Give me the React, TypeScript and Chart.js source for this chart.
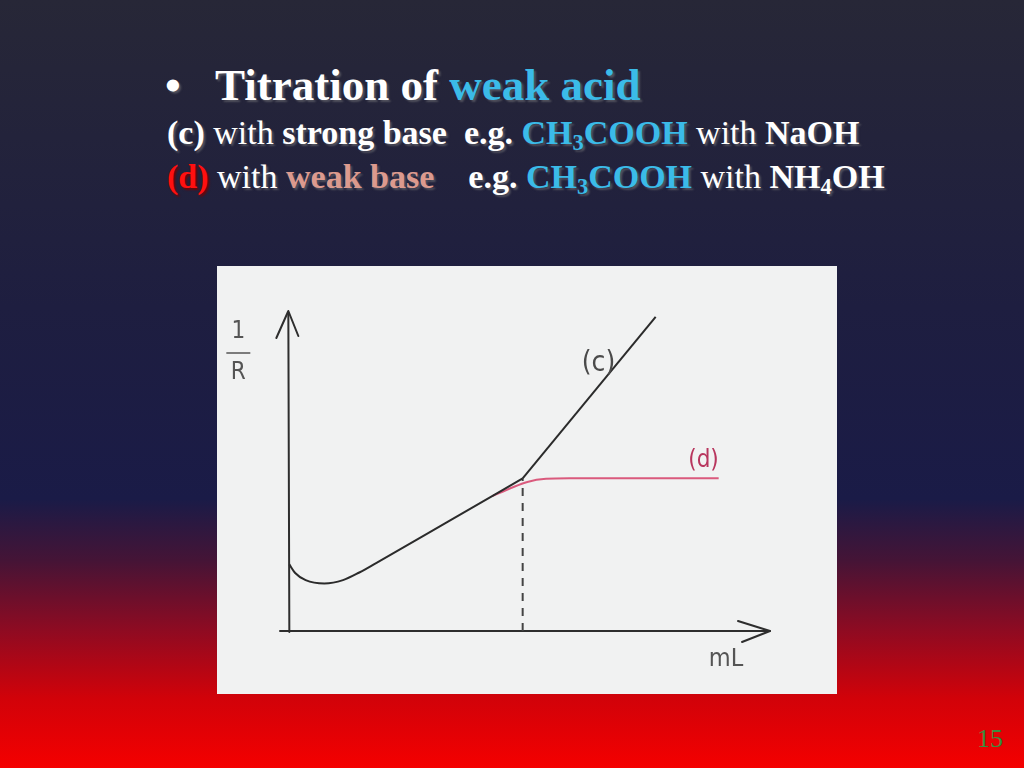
import React, { useEffect, useRef } from "react";
import { Chart, registerables } from "chart.js";

Chart.register(...registerables);

// ---- data (volume in mL, conductance 1/R in arbitrary units) ----
const cCurveX = [0, 0.25, 0.7, 1.5, 2.3, 3.0, 3.7, 6.8, 10];
const cCurveY = [2.62, 2.28, 2.0, 1.87, 2.0, 2.3, 2.66, 4.3, 6.0];
const cLineX = [10, 15.7];
const cLineY = [6.0, 12.35];
const dX = [8.7, 9.5, 10.2, 11.0, 12.0, 18.4];
const dY = [5.3, 5.62, 5.86, 5.98, 6.0, 6.0];
const eqX = [10, 10];
const eqY = [0, 6.0];
const xRange = [-0.4, 20.6];
const yRange = [0, 12.5];
const curveLabels = ["(c)", "(d)"];
const curveLabelX = [13.25, 17.75];
const curveLabelY = [10.5, 6.7];
const xAxisTitle = "mL";
const yAxisTitleTop = "1";
const yAxisTitleBottom = "R";

const pts = (xs: number[], ys: number[]) => xs.map((x, i) => ({ x, y: ys[i] }));

const HAND = "'DejaVu Sans Condensed', 'DejaVu Sans', sans-serif";

const sketchPlugin = {
  id: "sketch",
  beforeDatasetsDraw(chart: any) {
    const { ctx } = chart;
    const xs = chart.scales.x;
    const ys = chart.scales.y;
    const x0 = xs.getPixelForValue(0);
    const y0 = ys.getPixelForValue(0);
    ctx.save();
    ctx.strokeStyle = "#2e2e2e";
    ctx.lineWidth = 2;
    ctx.lineCap = "round";
    ctx.lineJoin = "round";
    // x axis
    ctx.beginPath();
    ctx.moveTo(xs.left, y0);
    ctx.lineTo(xs.right, y0);
    ctx.stroke();
    ctx.beginPath();
    ctx.moveTo(xs.right - 32, y0 - 10);
    ctx.lineTo(xs.right, y0);
    ctx.lineTo(xs.right - 28, y0 + 11);
    ctx.stroke();
    // y axis
    ctx.beginPath();
    ctx.moveTo(x0, y0 + 1);
    ctx.lineTo(x0 - 1, ys.top);
    ctx.stroke();
    ctx.beginPath();
    ctx.moveTo(x0 - 13, ys.top + 25);
    ctx.lineTo(x0 - 1, ys.top - 2);
    ctx.lineTo(x0 + 9, ys.top + 23);
    ctx.stroke();
    ctx.restore();
  },
  afterDraw(chart: any) {
    const { ctx } = chart;
    const xs = chart.scales.x;
    const ys = chart.scales.y;
    ctx.save();
    ctx.textAlign = "center";
    ctx.textBaseline = "middle";
    // curve labels
    const colors = ["#4a4a4a", "#b8365e"];
    const sizes = [28, 24];
    curveLabels.forEach((t, i) => {
      ctx.font = `${sizes[i]}px ${HAND}`;
      ctx.fillStyle = colors[i];
      ctx.fillText(t, xs.getPixelForValue(curveLabelX[i]), ys.getPixelForValue(curveLabelY[i]));
    });
    // x axis title
    ctx.fillStyle = "#555";
    ctx.font = `25px ${HAND}`;
    ctx.fillText(xAxisTitle, xs.right - 44, ys.getPixelForValue(0) + 28);
    // y axis title as a fraction
    const x0 = xs.getPixelForValue(0);
    const cx = x0 - 51;
    const top = ys.top;
    ctx.font = `24px ${HAND}`;
    ctx.fillText(yAxisTitleTop, cx, top + 19);
    ctx.fillText(yAxisTitleBottom, cx, top + 60);
    ctx.strokeStyle = "#555";
    ctx.lineWidth = 1.5;
    ctx.beginPath();
    ctx.moveTo(cx - 12, top + 40);
    ctx.lineTo(cx + 12, top + 40);
    ctx.stroke();
    ctx.restore();
  },
};

function ChartBox() {
  const ref = useRef<HTMLCanvasElement | null>(null);
  useEffect(() => {
    if (!ref.current) return;
    const ink = "#2b2b2b";
    const chart = new Chart(ref.current, {
      type: "line",
      data: {
        datasets: [
          {
            label: "(c) before equivalence",
            data: pts(cCurveX, cCurveY),
            borderColor: ink,
            borderWidth: 2,
            pointRadius: 0,
            cubicInterpolationMode: "monotone",
          },
          {
            label: "(c) after equivalence",
            data: pts(cLineX, cLineY),
            borderColor: ink,
            borderWidth: 2,
            pointRadius: 0,
            tension: 0,
          },
          {
            label: "(d)",
            data: pts(dX, dY),
            borderColor: "rgba(214,64,104,0.85)",
            borderWidth: 2,
            pointRadius: 0,
            cubicInterpolationMode: "monotone",
          },
          {
            label: "equivalence",
            data: pts(eqX, eqY),
            borderColor: "#444",
            borderWidth: 2,
            borderDash: [8, 7],
            pointRadius: 0,
          },
        ],
      },
      options: {
        responsive: false,
        animation: false,
        devicePixelRatio: 1,
        layout: { padding: { left: 63, right: 67, top: 47, bottom: 63 } },
        plugins: { legend: { display: false }, tooltip: { enabled: false }, title: { display: false } },
        scales: {
          x: { type: "linear", min: xRange[0], max: xRange[1], display: false },
          y: { type: "linear", min: yRange[0], max: yRange[1], display: false },
        },
      },
      plugins: [sketchPlugin],
    } as any);
    return () => chart.destroy();
  }, []);
  return <canvas ref={ref} width={620} height={428} style={{ display: "block" }} />;
}

const shadow = "2px 2px 2px rgba(90,90,100,0.85)";
const cyan = "#3bbbe8";
const W = { color: "#ffffff" };
const B = { fontWeight: 700 as const };
const sub = { fontSize: "0.66em", verticalAlign: "-0.28em" };

export default function App() {
  return (
    <div
      style={{
        position: "fixed",
        left: 0,
        top: 0,
        width: 1024,
        height: 768,
        overflow: "hidden",
        background:
          "linear-gradient(to bottom, #272737 0%, #1e1e40 40%, #1a1b47 65%, #451436 73%, #8e0b22 82%, #d20209 91%, #f40000 100%)",
        fontFamily: "'Liberation Serif', 'Times New Roman', serif",
        color: "#fff",
      }}
    >
      <div style={{ position: "absolute", left: 165, top: 63, fontSize: 45, lineHeight: 1, textShadow: shadow, whiteSpace: "pre", ...B }}>
        <span>•</span>
      </div>
      <div style={{ position: "absolute", left: 215, top: 63, fontSize: 45, lineHeight: 1, textShadow: shadow, whiteSpace: "pre", ...B }}>
        <span style={W}>Titration of </span>
        <span style={{ color: cyan }}>weak acid</span>
      </div>
      <div style={{ position: "absolute", left: 167, top: 116, fontSize: 34, lineHeight: 1, textShadow: shadow, whiteSpace: "pre" }}>
        <span style={B}>(c)</span>
        <span> with </span>
        <span style={B}>strong base</span>
        <span>  </span>
        <span style={B}>e.g. </span>
        <span style={{ ...B, color: cyan }}>
          CH<span style={sub}>3</span>COOH
        </span>
        <span> with </span>
        <span style={B}>NaOH</span>
      </div>
      <div style={{ position: "absolute", left: 167, top: 160, fontSize: 34, lineHeight: 1, textShadow: shadow, whiteSpace: "pre" }}>
        <span style={{ ...B, color: "#ff1010", textShadow: "2px 2px 2px rgba(120,0,0,0.9)" }}>(d)</span>
        <span> with </span>
        <span style={{ ...B, color: "#dc9a8e" }}>weak base</span>
        <span>    </span>
        <span style={B}>e.g. </span>
        <span style={{ ...B, color: cyan }}>
          CH<span style={sub}>3</span>COOH
        </span>
        <span> with </span>
        <span style={B}>
          NH<span style={sub}>4</span>OH
        </span>
      </div>
      <div style={{ position: "absolute", left: 217, top: 266, width: 620, height: 428, background: "#f1f2f2" }}>
        <ChartBox />
      </div>
      <div style={{ position: "absolute", left: 977, top: 726, fontSize: 26, lineHeight: 1, color: "#3a8c3e" }}>15</div>
    </div>
  );
}
